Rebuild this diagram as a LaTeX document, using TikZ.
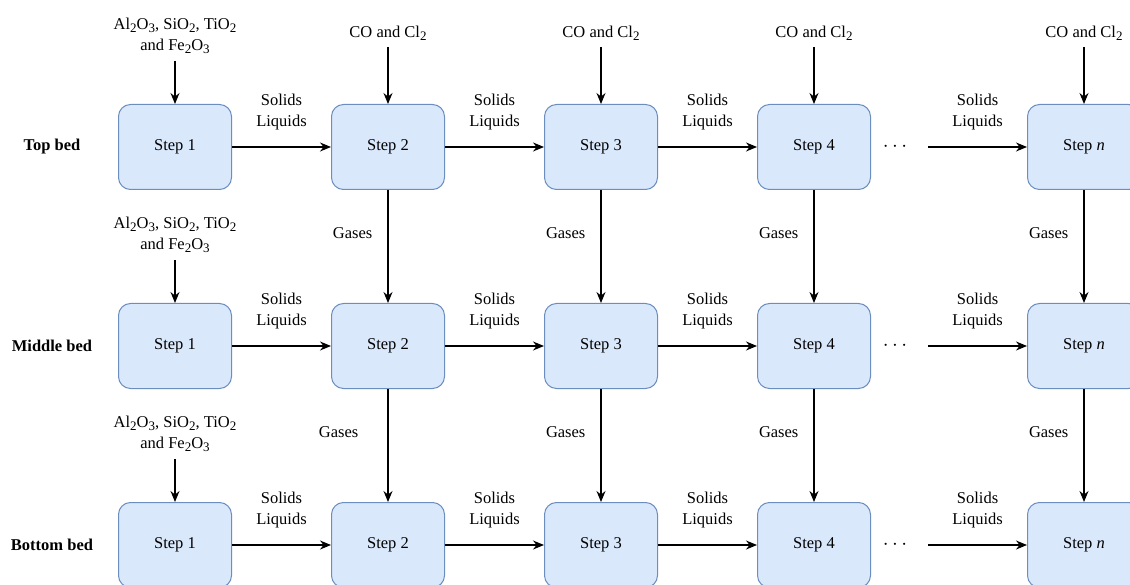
\documentclass[tikz,border=0pt]{standalone}
\usepackage{fontspec}
\setmainfont{Liberation Serif}
\usepackage{tikz}
\usetikzlibrary{arrows.meta, positioning}
\definecolor{paleblue}{HTML}{DAE8FC}
\definecolor{edgeblue}{HTML}{6C8EBF}
\newcommand{\chemsub}[1]{\raisebox{-0.4ex}{\fontsize{13}{13}\selectfont #1}}

\begin{document}
\begin{tikzpicture}[
    x=1pt, y=-1pt,
    font=\fontsize{16.5}{21}\selectfont,
    node distance=113pt and 99pt,
    stepbox/.style={rectangle, rounded corners=12pt, draw=edgeblue, fill=paleblue, line width=1pt, minimum width=113pt, minimum height=85pt, align=center},
    bed/.style={font=\fontsize{16.5}{21}\selectfont\bfseries},
    feed/.style={align=center, inner sep=7pt},
    gasfeed/.style={inner sep=6pt},
    flow/.style={align=center, above=13pt},
    gas/.style={left, pos=0.38, inner sep=2pt, xshift=-13pt},
    dotsnode/.style={minimum width=66pt, inner sep=0pt, font=\fontsize{22}{22}\selectfont},
    arr/.style={-{Stealth[length=11pt, width=9pt]}, line width=1.2pt}
]
\useasboundingbox (0,0) rectangle (1130,585);

% top bed
\node[bed] (tbed) at (52,147) {Top bed};
\node[stepbox] (t1) at (175,147) {Step 1};
\node[stepbox, right=of t1] (t2) {Step 2};
\node[stepbox, right=of t2] (t3) {Step 3};
\node[stepbox, right=of t3] (t4) {Step 4};
\node[dotsnode] (tdots) at (895,147) {$\cdots$};
\node[stepbox, right=156pt of t4] (tn) {Step \textit{n}};

\node[feed, above=43pt of t1] (tfeed) {Al\chemsub{2}O\chemsub{3}, SiO\chemsub{2}, TiO\chemsub{2}\\and Fe\chemsub{2}O\chemsub{3}};
\node[gasfeed, above=57pt of t2] (tco2) {CO and Cl\chemsub{2}};
\node[gasfeed, above=57pt of t3] (tco3) {CO and Cl\chemsub{2}};
\node[gasfeed, above=57pt of t4] (tco4) {CO and Cl\chemsub{2}};
\node[gasfeed, above=57pt of tn] (tcon) {CO and Cl\chemsub{2}};

\draw[arr] (tfeed) -- (t1);
\draw[arr] (tco2) -- (t2);
\draw[arr] (tco3) -- (t3);
\draw[arr] (tco4) -- (t4);
\draw[arr] (tcon) -- (tn);

\draw[arr] (t1) -- node[flow] {Solids\\Liquids} (t2);
\draw[arr] (t2) -- node[flow] {Solids\\Liquids} (t3);
\draw[arr] (t3) -- node[flow] {Solids\\Liquids} (t4);
\draw[arr] (tdots) -- node[flow] {Solids\\Liquids} (tn);

% middle bed
\node[bed] (mbed) at (52,346) {Middle bed};
\node[stepbox, below=of t1] (m1) {Step 1};
\node[stepbox, below=of t2] (m2) {Step 2};
\node[stepbox, below=of t3] (m3) {Step 3};
\node[stepbox, below=of t4] (m4) {Step 4};
\node[dotsnode] (mdots) at (895,346) {$\cdots$};
\node[stepbox, below=of tn] (mn) {Step \textit{n}};

\node[feed, above=43pt of m1] (mfeed) {Al\chemsub{2}O\chemsub{3}, SiO\chemsub{2}, TiO\chemsub{2}\\and Fe\chemsub{2}O\chemsub{3}};
\draw[arr] (mfeed) -- (m1);

\draw[arr] (m1) -- node[flow] {Solids\\Liquids} (m2);
\draw[arr] (m2) -- node[flow] {Solids\\Liquids} (m3);
\draw[arr] (m3) -- node[flow] {Solids\\Liquids} (m4);
\draw[arr] (mdots) -- node[flow] {Solids\\Liquids} (mn);

\draw[arr] (t2) -- node[gas] {Gases} (m2);
\draw[arr] (t3) -- node[gas] {Gases} (m3);
\draw[arr] (t4) -- node[gas] {Gases} (m4);
\draw[arr] (tn) -- node[gas] {Gases} (mn);

% bottom bed
\node[bed] (bbed) at (52,545) {Bottom bed};
\node[stepbox, below=of m1] (b1) {Step 1};
\node[stepbox, below=of m2] (b2) {Step 2};
\node[stepbox, below=of m3] (b3) {Step 3};
\node[stepbox, below=of m4] (b4) {Step 4};
\node[dotsnode] (bdots) at (895,545) {$\cdots$};
\node[stepbox, below=of mn] (bn) {Step \textit{n}};

\node[feed, above=43pt of b1] (bfeed) {Al\chemsub{2}O\chemsub{3}, SiO\chemsub{2}, TiO\chemsub{2}\\and Fe\chemsub{2}O\chemsub{3}};
\draw[arr] (bfeed) -- (b1);

\draw[arr] (b1) -- node[flow] {Solids\\Liquids} (b2);
\draw[arr] (b2) -- node[flow] {Solids\\Liquids} (b3);
\draw[arr] (b3) -- node[flow] {Solids\\Liquids} (b4);
\draw[arr] (bdots) -- node[flow] {Solids\\Liquids} (bn);

\draw[arr] (m2) -- node[gas, xshift=-14pt] {Gases} (b2);
\draw[arr] (m3) -- node[gas] {Gases} (b3);
\draw[arr] (m4) -- node[gas] {Gases} (b4);
\draw[arr] (mn) -- node[gas] {Gases} (bn);

\end{tikzpicture}
\end{document}
